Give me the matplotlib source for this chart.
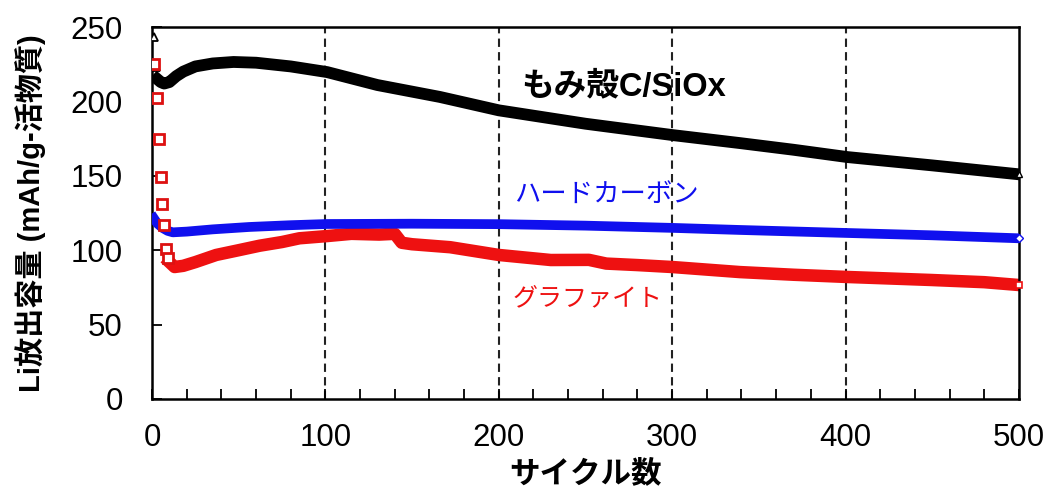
import matplotlib
matplotlib.use("Agg")
import matplotlib.pyplot as plt

plt.rcParams['font.family'] = ['Liberation Sans', 'Noto Sans CJK JP', 'DejaVu Sans']

# ---- data ----
black_cycles = [1, 2, 3, 5, 7, 10, 14, 18, 25, 35, 47, 60, 80, 101, 130, 166, 200, 250, 300, 339, 370, 401, 450, 500]
black_vals = [243, 223, 215, 213, 212, 213, 217, 220, 223.5, 225.5, 226.5, 226, 223.5, 219.7, 211, 203, 194, 185, 177.4, 172, 167.5, 162.6, 157, 151]

blue_cycles = [1, 3, 6, 9, 12, 20, 35, 56, 80, 101, 150, 200, 250, 300, 339, 400, 450, 500]
blue_vals = [121.5, 118, 115, 113, 112, 112.5, 114, 115.6, 116.8, 117.6, 117.8, 117.5, 116.5, 115, 113.6, 111.6, 110, 108]

red_early_cycles = [1, 3, 4, 5, 6, 7, 8, 9]
red_early_vals = [225, 202, 175, 149, 131, 117, 101, 95]
red_cycles = [10, 13, 18, 25, 37, 50, 62, 75, 85, 101, 115, 131, 140, 144, 150, 172, 200, 230, 252, 262, 280, 300, 339, 370, 401, 449, 480, 500]
red_vals = [92, 88.7, 89.5, 92, 96.8, 100, 103, 105.5, 108, 109.5, 111, 110.5, 111, 105, 104, 102, 96.8, 93.4, 93.5, 91, 90, 88.7, 85.3, 83.5, 82, 80, 78.5, 76.6]

labels = ['もみ殻C/SiOx', 'ハードカーボン', 'グラファイト']
x_ticks = [0, 100, 200, 300, 400, 500]
y_ticks = [0, 50, 100, 150, 200, 250]

fig = plt.figure(figsize=(10.45, 4.91), dpi=100)
ax = fig.add_axes([0.1455, 0.1874, 0.8295, 0.7576])

for x in x_ticks[1:-1]:
    ax.axvline(x, color='#222222', lw=1.5, ls=(0, (4, 2.5)), zorder=1)

# black series
ax.plot(black_cycles[2:], black_vals[2:], color='black', lw=8.5, solid_joinstyle='round', zorder=3)
ax.plot(black_cycles[:2], black_vals[:2], ls='none', marker='^', ms=6, mfc='white', mec='black', mew=1.3, zorder=4)
ax.plot(black_cycles[-1:], black_vals[-1:], ls='none', marker='^', ms=5, mfc='white', mec='black', mew=1.0, zorder=4, clip_on=False)

# blue series
ax.plot(blue_cycles, blue_vals, color='#1010ee', lw=7, solid_joinstyle='round', zorder=3)
ax.plot(blue_cycles[-1:], blue_vals[-1:], ls='none', marker='D', ms=4, mfc='white', mec='#1010ee', mew=1.0, zorder=4, clip_on=False)

# red series
ax.plot(red_cycles, red_vals, color='#ee1111', lw=9, solid_joinstyle='round', zorder=2)
ax.plot(red_early_cycles, red_early_vals, ls='none', marker='s', ms=7, mfc='white', mec='#dd1111', mew=2.0, zorder=4)
ax.plot(red_cycles[-1:], red_vals[-1:], ls='none', marker='s', ms=5, mfc='white', mec='#ee1111', mew=1.2, zorder=4, clip_on=False)

ax.text(272, 209.7, labels[0], fontsize=23.5, fontweight='bold', color='black', ha='center', va='center')
ax.text(262, 137, labels[1], fontsize=19, color='#1010ee', ha='center', va='center')
ax.text(251, 68, labels[2], fontsize=18, color='#ee1111', ha='center', va='center')

ax.set_xlim(0, 500)
ax.set_ylim(0, 250)
ax.set_xticks(x_ticks)
ax.set_xticks(range(0, 501, 20), minor=True)
ax.set_yticks(y_ticks)
ax.tick_params(axis='both', which='major', direction='in', length=7, width=1.3, labelsize=22.5)
ax.tick_params(axis='x', which='minor', direction='in', length=7, width=1.3)
ax.tick_params(axis='x', which='major', pad=17)
ax.tick_params(axis='y', which='major', pad=21)
for s in ax.spines.values():
    s.set_linewidth(1.8)
    s.set_color('black')

ax.set_xlabel('サイクル数', fontsize=22, fontweight='bold', labelpad=5)
ax.set_ylabel('Li放出容量 (mAh/g-活物質)', fontsize=21, fontweight='bold', labelpad=18)

fig.savefig('out.png', dpi=100)
